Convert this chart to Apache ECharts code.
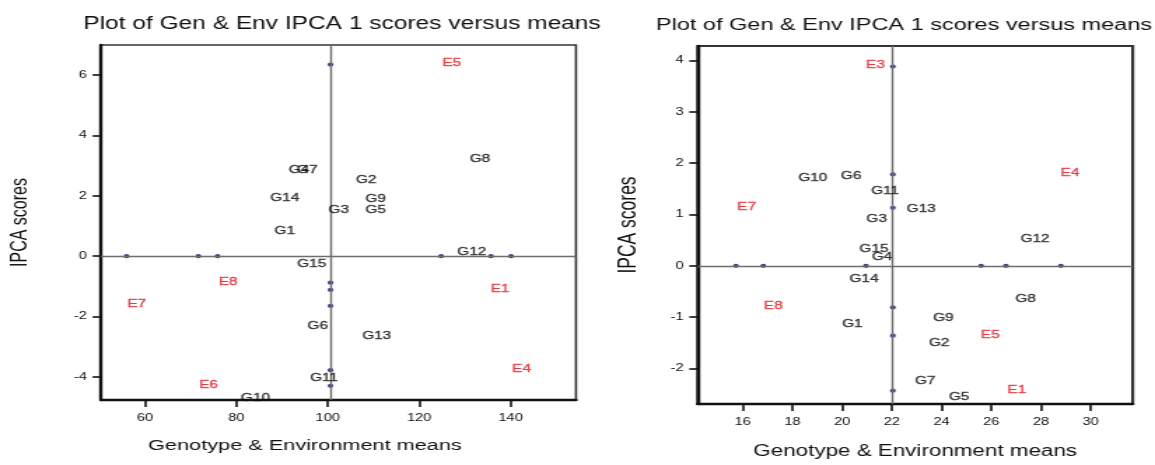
<!DOCTYPE html>
<html>
<head>
<meta charset="utf-8">
<script src="https://cdn.jsdelivr.net/npm/echarts@6/dist/echarts.min.js"></script>
<style>
html,body{margin:0;padding:0;background:#fff;overflow:hidden;}
#wrap{width:1155px;height:465px;overflow:hidden;position:relative;}
#chart{position:absolute;left:0;top:0;height:465px;transform-origin:0 0;}
</style>
</head>
<body>
<div id="wrap"><div id="chart"></div></div>
<script>
// ---------- data: left panel ----------
const genNames = ['G1','G2','G3','G4','G5','G6','G7','G8','G9','G10','G11','G12','G13','G14','G15'];
const leftGenMeans  = [90.6, 108.4, 102.4, 93.7, 110.5, 97.8, 95.5, 133.3, 110.5, 84.2, 99.2, 131.5, 110.7, 90.6, 96.5];
const leftGenScores = [0.83, 2.53, 1.54, 2.86, 1.54, -2.32, 2.86, 3.21, 1.90, -4.70, -4.04, 0.15, -2.64, 1.94, -0.27];
const leftEnvNames  = ['E1','E4','E5','E6','E7','E8'];
const leftEnvMeans  = [137.7, 142.4, 127.1, 73.9, 58.2, 78.2];
const leftEnvScores = [-1.10, -3.75, 6.39, -4.26, -1.60, -0.85];
const leftGrandMean = 100.6;
const leftDotsOnZeroX = [56.0, 71.7, 75.9, 124.8, 135.7, 140.1];
const leftDotsOnMeanY = [6.35, -0.88, -1.12, -1.65, -3.78, -4.30];
const leftXTicks = [60, 80, 100, 120, 140];
const leftYTicks = [-4, -2, 0, 2, 4, 6];

// ---------- data: right panel ----------
const rightGenMeans  = [20.41, 23.90, 21.39, 21.61, 24.70, 20.36, 23.34, 27.38, 24.07, 18.82, 21.73, 27.76, 23.18, 20.88, 21.28];
const rightGenScores = [-1.13, -1.51, 0.91, 0.17, -2.55, 1.75, -2.24, -0.64, -1.02, 1.72, 1.46, 0.52, 1.10, -0.25, 0.33];
const rightEnvNames  = ['E1','E3','E4','E5','E7','E8'];
const rightEnvMeans  = [27.03, 21.34, 29.17, 25.96, 16.16, 17.23];
const rightEnvScores = [-2.42, 3.91, 1.81, -1.34, 1.15, -0.79];
const rightGrandMean = 22.04;
const rightDotsOnZeroX = [15.73, 16.83, 20.96, 25.59, 26.59, 28.80];
const rightDotsOnMeanY = [3.88, 1.78, 1.13, -0.81, -1.36, -2.43];
const rightXTicks = [16, 18, 20, 22, 24, 26, 28, 30];
const rightYTicks = [-2, -1, 0, 1, 2, 3, 4];

const titleText = 'Plot of Gen & Env IPCA 1 scores versus means';
const xTitle = 'Genotype & Environment means';
const yTitle = 'IPCA scores';

// ---------- layout ----------
const S = 1.4;                       // horizontal stretch of the reference
const W = 1155 / S;
const el = document.getElementById('chart');
el.style.width = W + 'px';
el.style.transform = 'scaleX(' + S + ')';
const FONT = 'Liberation Sans, Arial, sans-serif';
const RED = '#e3202b', INK = '#111111', DOT = '#12127a';

function gridBox(l, t, r, b, bw) { return {left: l / S, top: t, width: (r - l) / S, height: b - t, show: true, borderColor: '#333', borderWidth: bw, containLabel: false}; }

function pairs(xs, ys, names) { return xs.map((x, i) => ({value: [x, ys[i]], name: names ? names[i] : ''})); }

function labelSeries(idx, xs, ys, names, color, fs) {
  return {
    type: 'scatter', xAxisIndex: idx, yAxisIndex: idx, symbolSize: 1,
    itemStyle: {color: 'rgba(0,0,0,0)'}, z: 5,
    label: {show: true, position: 'inside', formatter: p => p.name, color: color, fontSize: fs, fontFamily: FONT,
      textBorderColor: color, textBorderWidth: 0.35},
    data: pairs(xs, ys, names)
  };
}

function xAxisOpt(idx, min, max, ticks, gap, pad) {
  return {
    type: 'value', gridIndex: idx, min: min, max: max, splitLine: {show: false},
    axisLine: {show: true, onZero: false, lineStyle: {color: '#111', width: 2.4}},
    axisTick: {show: true, customValues: ticks, length: 7, lineStyle: {color: '#111', width: 1.6}},
    axisLabel: {show: true, customValues: ticks, margin: 13, color: INK, fontSize: 10.5, fontFamily: FONT},
    name: xTitle, nameLocation: 'middle', nameGap: gap,
    nameTextStyle: {color: INK, fontSize: idx === 0 ? 15.5 : 16, fontFamily: FONT, padding: pad}
  };
}
function yAxisOpt(idx, min, max, ticks, gap, fs) {
  return {
    type: 'value', gridIndex: idx, min: min, max: max, splitLine: {show: false},
    axisLine: {show: true, onZero: false, lineStyle: {color: '#111', width: 2.4}},
    axisTick: {show: true, customValues: ticks, length: 6, lineStyle: {color: '#111', width: 1.6}},
    axisLabel: {show: true, customValues: ticks, margin: 10, color: INK, fontSize: 10.5, fontFamily: FONT},
    name: yTitle, nameLocation: 'middle', nameGap: gap, nameRotate: 90,
    nameTextStyle: {color: INK, fontSize: fs, fontFamily: FONT}
  };
}

function refLines(mean) {
  return {symbol: 'none', silent: true, animation: false, label: {show: false},
    lineStyle: {color: '#6e6e6e', width: 1.4, type: 'solid'},
    data: [{xAxis: mean}, {yAxis: 0}]};
}

function dotSeries(idx, zeroX, meanY, mean) {
  const d = zeroX.map(x => [x, 0]).concat(meanY.map(y => [mean, y]));
  return {type: 'scatter', xAxisIndex: idx, yAxisIndex: idx, symbolSize: 4.2, z: 4,
    itemStyle: {color: DOT}, data: d, markLine: refLines(mean)};
}

const option = {
  animation: false,
  backgroundColor: '#fff',
  title: [
    {text: titleText, left: 335 / S, top: 10, textAlign: 'center', textStyle: {fontFamily: FONT, fontSize: 17.5, fontWeight: 'normal', color: INK}},
    {text: titleText, left: 897 / S, top: 12, textAlign: 'center', textStyle: {fontFamily: FONT, fontSize: 16.8, fontWeight: 'normal', color: INK}}
  ],
  grid: [gridBox(101, 45, 576, 400, 1.6), gridBox(697.7, 46, 1132.7, 407.3, 2.2)],
  xAxis: [
    xAxisOpt(0, 50.4, 154.3, leftXTicks, 38, [0, 48, 0, 0]),
    xAxisOpt(1, 14.19, 31.69, rightXTicks, 40, [0, 0, 0, 0])
  ],
  yAxis: [
    yAxisOpt(0, -4.77, 7.0, leftYTicks, 50, 16),
    yAxisOpt(1, -2.69, 4.28, rightYTicks, 40, 17.5)
  ],
  series: [
    dotSeries(0, leftDotsOnZeroX, leftDotsOnMeanY, leftGrandMean),
    labelSeries(0, leftGenMeans, leftGenScores, genNames, INK, 11),
    labelSeries(0, leftEnvMeans, leftEnvScores, leftEnvNames, RED, 11),
    dotSeries(1, rightDotsOnZeroX, rightDotsOnMeanY, rightGrandMean),
    labelSeries(1, rightGenMeans, rightGenScores, genNames, INK, 11),
    labelSeries(1, rightEnvMeans, rightEnvScores, rightEnvNames, RED, 11)
  ]
};
const chart = echarts.init(el, null, {renderer: 'canvas'});
chart.setOption(option);
</script>
</body>
</html>
